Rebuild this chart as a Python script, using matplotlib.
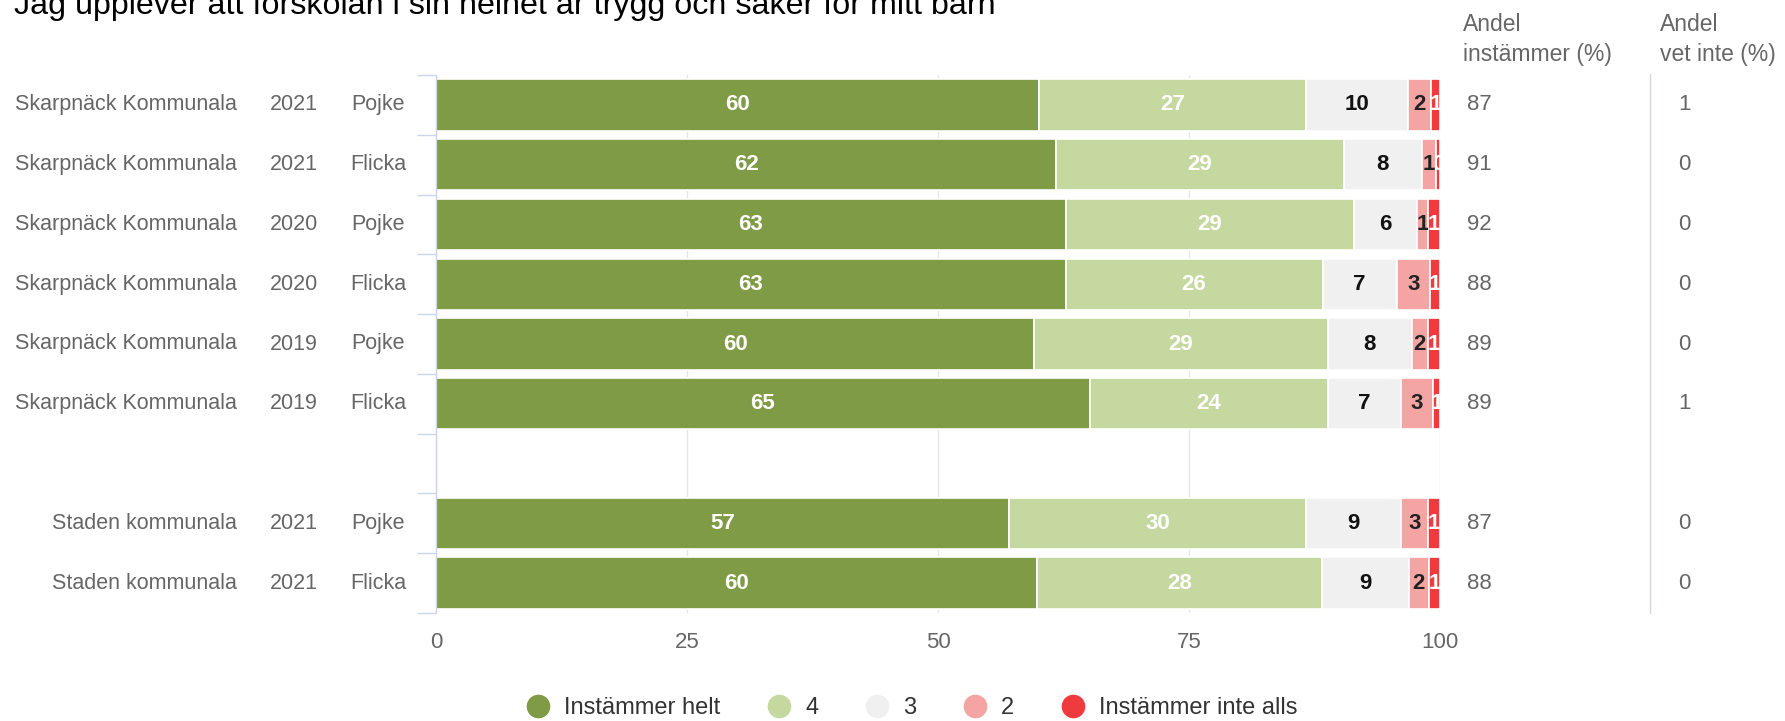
import numpy as np
import matplotlib.pyplot as plt
from matplotlib import transforms
from matplotlib.lines import Line2D

plt.rcParams['font.family'] = ['Liberation Sans', 'DejaVu Sans']

W, H = 1785, 721

title = "Jag upplever att förskolan i sin helhet är trygg och säker för mitt barn"
units = ["Skarpnäck Kommunala"] * 6 + ["Staden kommunala"] * 2
years = ["2021", "2021", "2020", "2020", "2019", "2019", "2021", "2021"]
genders = ["Pojke", "Flicka", "Pojke", "Flicka", "Pojke", "Flicka", "Pojke", "Flicka"]

series_names = ["Instämmer helt", "4", "3", "2", "Instämmer inte alls"]
helt = [60.1, 61.8, 62.7, 62.7, 59.6, 65.1, 57.1, 59.9]
four = [26.6, 28.6, 28.7, 25.6, 29.2, 23.7, 29.6, 28.3]
three = [10.1, 7.8, 6.3, 7.4, 8.4, 7.3, 9.4, 8.7]
two = [2.3, 1.4, 1.1, 3.3, 1.6, 3.2, 2.7, 2.0]
inte_alls = [0.9, 0.4, 1.2, 1.0, 1.2, 0.7, 1.2, 1.1]

andel_instammer = [87, 91, 92, 88, 89, 89, 87, 88]
andel_vet_inte = [1, 0, 0, 0, 0, 1, 0, 0]

colors = ["#7f9b45", "#c5d8a0", "#f0f0f0", "#f5a4a4", "#ef3b3d"]
label_colors = ["white", "white", "#111111", "#222222", "white"]
grey = "#666666"
axis_col = "#ccd6eb"

fig = plt.figure(figsize=(W / 100, H / 100), dpi=100)
ax = fig.add_axes([436 / W, 1 - 613 / H, (1440 - 436) / W, (613 - 75) / H])

# an empty slot separates the two units
slots = np.array([i if i < 6 else i + 1 for i in range(len(units))])

series = [helt, four, three, two, inte_alls]
left = np.zeros(len(units))
for vals, col, lcol in zip(series, colors, label_colors):
    vals = np.array(vals)
    bars = ax.barh(slots, vals, left=left, height=0.86, color=col,
                   edgecolor="white", linewidth=1.2, zorder=2)
    for rect, v, l0, s in zip(bars, vals, left, slots):
        t = ax.text(l0 + v / 2, s, f"{round(v)}", ha="center", va="center",
                    fontsize=16, fontweight="bold", color=lcol, zorder=3,
                    clip_on=True)
        t.set_clip_path(rect)
    left += vals

ax.set_xlim(0, 100)
ax.set_ylim(8.5, -0.5)
ax.set_xticks([0, 25, 50, 75, 100])
ax.tick_params(axis="x", length=0, pad=14, labelsize=16, labelcolor=grey)
ax.set_yticks(np.arange(-0.5, 9, 1))
ax.set_yticklabels([])
ax.tick_params(axis="y", length=14, width=1, color=axis_col, direction="out")
ax.grid(axis="x", color="#e6e6e6", linewidth=1)
ax.set_axisbelow(True)
for side in ["top", "right", "bottom"]:
    ax.spines[side].set_visible(False)
ax.spines["left"].set_color(axis_col)
ax.spines["left"].set_linewidth(1)

# row labels and right-hand columns
trans = transforms.blended_transform_factory(fig.transFigure, ax.transData)
for s, u, y, g, a, v in zip(slots, units, years, genders, andel_instammer, andel_vet_inte):
    ax.text(237 / W, s, u, transform=trans, ha="right", va="center", fontsize=15.5, color=grey)
    ax.text(293.5 / W, s, y, transform=trans, ha="center", va="center", fontsize=15.5, color=grey)
    ax.text(378 / W, s, g, transform=trans, ha="center", va="center", fontsize=15.5, color=grey)
    ax.text(1467 / W, s, str(a), transform=trans, ha="left", va="center", fontsize=16, color=grey)
    ax.text(1678 / W, s, str(v), transform=trans, ha="left", va="center", fontsize=16, color=grey)

fig.text(1463 / W, 1 - 31 / H, "Andel", ha="left", va="baseline", fontsize=16.5, color=grey)
fig.text(1463 / W, 1 - 61 / H, "instämmer (%)", ha="left", va="baseline", fontsize=16.5, color=grey)
fig.text(1660 / W, 1 - 31 / H, "Andel", ha="left", va="baseline", fontsize=16.5, color=grey)
fig.text(1660 / W, 1 - 61 / H, "vet inte (%)", ha="left", va="baseline", fontsize=16.5, color=grey)
fig.add_artist(Line2D([1650 / W, 1650 / W], [1 - 74 / H, 1 - 613 / H],
                      transform=fig.transFigure, color="#d3d8e0", linewidth=1))

fig.text(14 / W, 1 - 14 / H, title, ha="left", va="baseline", fontsize=23.2, color="black")

handles = [Line2D([], [], marker="o", linestyle="none", markersize=16,
                  markerfacecolor=c, markeredgecolor=c) for c in colors]
fig.legend(handles, series_names, loc="center", bbox_to_anchor=(912 / W, 1 - 708 / H),
           ncol=5, frameon=False, fontsize=17, labelcolor="#333333",
           handlelength=1.0, handletextpad=0.6, columnspacing=2.0)

fig.savefig("out.png", dpi=100)
